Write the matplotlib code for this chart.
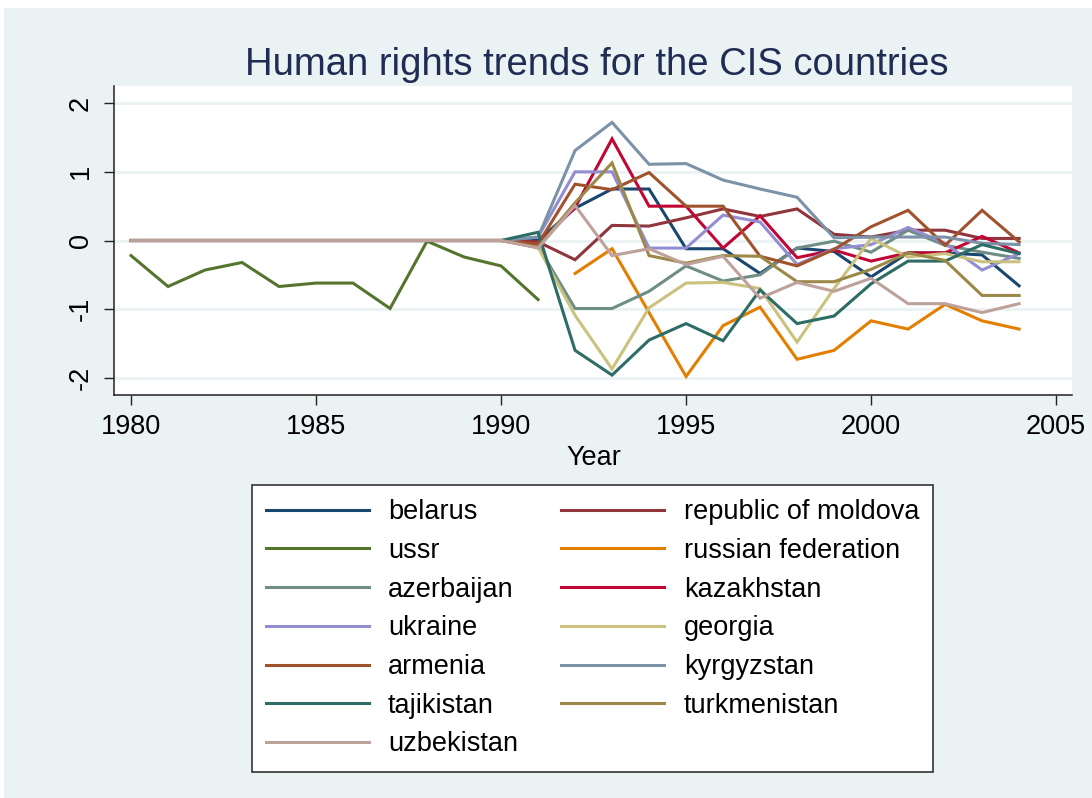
import numpy as np
import matplotlib
matplotlib.use("Agg")
from matplotlib import pyplot as plt
from matplotlib.patches import Rectangle

plt.rcParams["font.family"] = ["Liberation Sans", "DejaVu Sans"]
plt.rcParams["axes.unicode_minus"] = False

nan = np.nan
years = list(range(1980, 2005))
flat = [0.0] * 11  # 1980-1990

# values 1991..2004 for the post-soviet republics
belarus = flat + [0.0, 0.47, 0.75, 0.75, -0.12, -0.12, -0.48, -0.11, -0.16, -0.53, -0.18, -0.18, -0.21, -0.66]
moldova = flat + [-0.02, -0.28, 0.22, 0.21, 0.33, 0.46, 0.35, 0.46, 0.09, 0.05, 0.15, 0.15, 0.03, 0.03]
ussr = [-0.22, -0.67, -0.43, -0.32, -0.67, -0.62, -0.62, -0.99, -0.01, -0.24, -0.37, -0.86] + [nan] * 13
russia = [nan] * 12 + [-0.48, -0.12, -1.05, -1.98, -1.24, -0.97, -1.73, -1.60, -1.17, -1.29, -0.93, -1.17, -1.29]
azerbaijan = flat + [-0.08, -0.99, -0.99, -0.74, -0.37, -0.59, -0.50, -0.11, -0.01, -0.17, 0.15, -0.07, -0.17, -0.26]
kazakhstan = flat + [-0.05, 0.48, 1.48, 0.50, 0.50, -0.11, 0.36, -0.25, -0.14, -0.30, -0.18, -0.18, 0.06, -0.18]
ukraine = flat + [0.05, 1.00, 1.00, -0.11, -0.11, 0.37, 0.27, -0.35, -0.12, -0.06, 0.19, -0.04, -0.43, -0.19]
georgia = flat + [-0.10, -1.09, -1.87, -0.98, -0.62, -0.61, -0.70, -1.48, -0.70, 0.03, -0.24, -0.19, -0.31, -0.31]
armenia = flat + [-0.05, 0.82, 0.74, 0.99, 0.50, 0.50, -0.23, -0.37, -0.13, 0.20, 0.44, -0.07, 0.44, -0.02]
kyrgyzstan = flat + [0.05, 1.31, 1.72, 1.11, 1.12, 0.88, 0.75, 0.63, 0.04, 0.05, 0.05, 0.05, -0.04, -0.06]
tajikistan = flat + [0.12, -1.60, -1.96, -1.45, -1.21, -1.46, -0.72, -1.21, -1.10, -0.63, -0.30, -0.30, -0.06, -0.19]
turkmenistan = flat + [-0.10, 0.55, 1.13, -0.22, -0.33, -0.22, -0.23, -0.60, -0.60, -0.42, -0.18, -0.29, -0.80, -0.80]
uzbekistan = flat + [-0.11, 0.51, -0.22, -0.12, -0.35, -0.23, -0.84, -0.61, -0.74, -0.55, -0.92, -0.92, -1.05, -0.92]

names = ["belarus", "republic of moldova", "ussr", "russian federation", "azerbaijan",
         "kazakhstan", "ukraine", "georgia", "armenia", "kyrgyzstan", "tajikistan",
         "turkmenistan", "uzbekistan"]
series = [belarus, moldova, ussr, russia, azerbaijan, kazakhstan, ukraine, georgia,
          armenia, kyrgyzstan, tajikistan, turkmenistan, uzbekistan]
# stata s2color pstyles
colors = ["#1a476f", "#90353b", "#55752f", "#e37e00", "#6e8e84", "#c10534", "#938dd2",
          "#cac27e", "#a0522d", "#7b92a8", "#2d6d66", "#9c8847", "#bfa19c"]

bg = "#eaf2f3"
W, H = 1092, 798
fig = plt.figure(figsize=(W / 100, H / 100), dpi=100, facecolor=bg)
# thin white strips at top/left edge
fig.patches.append(Rectangle((0, 1 - 8 / H), 1, 8 / H, transform=fig.transFigure,
                             facecolor="white", edgecolor="none", zorder=-1))
fig.patches.append(Rectangle((0, 0), 4 / W, 1, transform=fig.transFigure,
                             facecolor="white", edgecolor="none", zorder=-1))

ax = fig.add_axes([114 / W, (H - 395) / H, (1072 - 114) / W, (395 - 86) / H])
ax.set_facecolor("white")

handles = []
for name, vals, c in zip(names, series, colors):
    h, = ax.plot(years, vals, color=c, lw=2.2, label=name, solid_joinstyle="miter")
    handles.append(h)

ax.set_xlim(1979.54, 2005.43)
ax.set_ylim(-2.25, 2.25)
ax.set_xticks([1980, 1985, 1990, 1995, 2000, 2005])
ax.set_yticks([-2, -1, 0, 1, 2])
ax.grid(axis="y", color=bg, lw=2.0, zorder=0)
ax.set_axisbelow(True)
for s in ["top", "right"]:
    ax.spines[s].set_visible(False)
for s in ["left", "bottom"]:
    ax.spines[s].set_color("#222222")
    ax.spines[s].set_linewidth(1.1)
ax.tick_params(axis="both", direction="out", length=7.5, width=1.0, color="#222222",
               labelsize=19.5, labelcolor="black")
ax.tick_params(axis="x", pad=6)
ax.tick_params(axis="y", pad=7)
for lab in ax.get_yticklabels():
    lab.set_rotation(90)
    lab.set_va("center")

fig.text(596.5 / W, 1 - 75 / H, "Human rights trends for the CIS countries",
         ha="center", va="baseline", fontsize=27.5, color="#1f2d54")
fig.text(593.5 / W, 1 - 465 / H, "Year", ha="center", va="baseline", fontsize=19.5)

# stata fills legend row-wise, matplotlib column-wise
order = [0, 2, 4, 6, 8, 10, 12, 1, 3, 5, 7, 9, 11]
leg = fig.legend([handles[i] for i in order], [names[i] for i in order],
                 loc="upper center", bbox_to_anchor=(592.5 / W, 1 - 485 / H),
                 ncol=2, fontsize=19.5, frameon=True, fancybox=False, framealpha=1,
                 handlelength=3.8, handletextpad=0.72, columnspacing=1.6,
                 labelspacing=0.47, borderpad=0.52, borderaxespad=0)
leg.get_frame().set_edgecolor("#333333")
leg.get_frame().set_facecolor("white")
leg.get_frame().set_linewidth(1.2)
for l in leg.get_lines():
    l.set_linewidth(2.2)

fig.savefig("out.png", dpi=100, facecolor=bg)
